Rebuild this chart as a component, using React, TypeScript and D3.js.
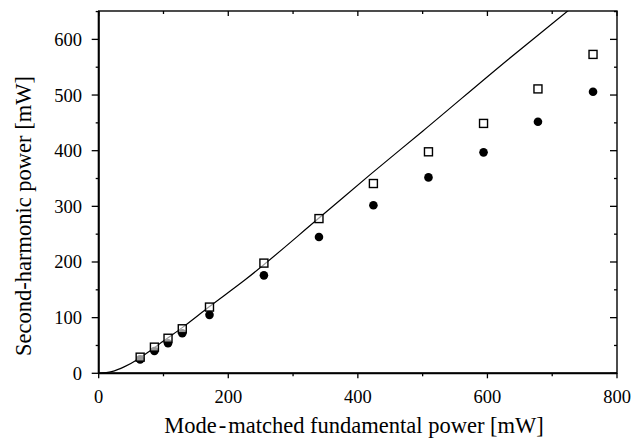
import React from "react";
import * as d3 from "d3";

const fundamental = [64, 86, 107, 129, 171, 255, 340, 424, 509, 594, 678, 763];
const shgOpen = [29, 47, 63, 80, 119, 198, 278, 341, 398, 449, 511, 573];
const shgFilled = [25, 40, 54, 72, 105, 176, 245, 302, 352, 397, 452, 506];
const curveX = [0, 20, 40, 60, 80, 100, 130, 170, 226, 340, 419, 500, 632, 725, 745];
const curveY = [0, 3, 12, 25, 41, 58, 83, 119, 168, 279, 357, 435, 564, 652, 671];
const xTicks = [0, 200, 400, 600, 800];
const yTicks = [0, 100, 200, 300, 400, 500, 600];

const W = 632;
const H = 441;
const L = 98.7, R = 617, T = 11, B = 373.3;
const FONT = "'Liberation Serif', 'Times New Roman', serif";

export default function App() {
  const x = d3.scaleLinear().domain([0, 800]).range([L, R]);
  const y = d3.scaleLinear().domain([0, 651]).range([B, T]);
  const xMinor = d3.range(0, 801, 100);
  const yMinor = d3.range(0, 651, 50);
  const line = d3
    .line<number>()
    .x((_, i) => x(curveX[i]))
    .y((d) => y(d))
    .curve(d3.curveMonotoneX);
  const sq = 8;
  return (
    <svg
      width={W}
      height={H}
      style={{ position: "absolute", left: 0, top: 0, background: "#fff" }}
      fontFamily={FONT}
    >
      <defs>
        <clipPath id="plot">
          <rect x={L} y={T} width={R - L} height={B - T} />
        </clipPath>
      </defs>
      <rect x={0} y={0} width={W} height={H} fill="#fff" />
      <path d={line(curveY) || ""} fill="none" stroke="#000" strokeWidth={1.2} clipPath="url(#plot)" />
      {fundamental.map((f, i) => (
        <circle key={"c" + i} cx={x(f)} cy={y(shgFilled[i])} r={4.3} fill="#000" />
      ))}
      {fundamental.map((f, i) => (
        <rect
          key={"s" + i}
          x={x(f) - sq / 2}
          y={y(shgOpen[i]) - sq / 2}
          width={sq}
          height={sq}
          fill="#fff"
          fillOpacity={0.6}
          stroke="#000"
          strokeWidth={1.4}
        />
      ))}
      <rect x={L} y={T} width={R - L} height={B - T} fill="none" stroke="#000" strokeWidth={1.4} />
      <line x1={L} x2={L} y1={T} y2={B} stroke="#000" strokeWidth={2} />
      <line x1={L} x2={R} y1={B} y2={B} stroke="#000" strokeWidth={2} />
      {yMinor.map((v) => {
        const major = v % 100 === 0;
        return (
          <g key={"yl" + v}>
            <line x1={L - (major ? 7 : 3)} x2={L} y1={y(v)} y2={y(v)} stroke="#000" strokeWidth={1.3} />
            <line x1={R - (major ? 7 : 3)} x2={R} y1={y(v)} y2={y(v)} stroke="#000" strokeWidth={1.3} />
          </g>
        );
      })}
      {xMinor.map((v) => {
        const major = v % 200 === 0;
        return (
          <g key={"xt" + v}>
            <line x1={x(v)} x2={x(v)} y1={B} y2={B + (major ? 5 : 3)} stroke="#000" strokeWidth={1.3} />
            <line x1={x(v)} x2={x(v)} y1={T} y2={T + (major ? 5 : 3)} stroke="#000" strokeWidth={1.3} />
          </g>
        );
      })}
      {yTicks.map((v) => (
        <text key={"ylab" + v} x={82} y={y(v)} dy="0.35em" textAnchor="end" fontSize={18.5} fill="#000">
          {v}
        </text>
      ))}
      {xTicks.map((v) => (
        <text key={"xlab" + v} x={x(v)} y={403} textAnchor="middle" fontSize={18.5} fill="#000">
          {v}
        </text>
      ))}
      <text x={354} y={433} textAnchor="middle" fontSize={22.5} fill="#000">
        <tspan>Mode</tspan>
        <tspan dx={2}>-</tspan>
        <tspan dx={2}>matched fundamental power [mW]</tspan>
      </text>
      <text transform={`translate(31,216) rotate(-90)`} textAnchor="middle" fontSize={22.5} fill="#000">
        Second-harmonic power [mW]
      </text>
    </svg>
  );
}
